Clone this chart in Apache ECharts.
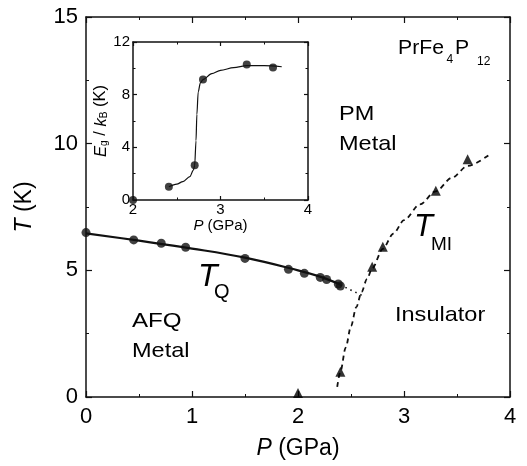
<!DOCTYPE html>
<html><head><meta charset="utf-8">
<script src="https://cdn.jsdelivr.net/npm/echarts@6/dist/echarts.min.js"></script>
<style>html,body{margin:0;padding:0;background:#fff}#c{width:527px;height:466px}</style>
</head><body><div id="c"></div>
<script>
// ---- data ----
const tqP = [0, 0.45, 0.71, 0.94, 1.5, 1.91, 2.06, 2.21, 2.27, 2.38, 2.40];
const tqT = [6.49, 6.2, 6.07, 5.91, 5.47, 5.04, 4.88, 4.72, 4.64, 4.46, 4.38];
const tqFitP = [0, 0.5, 1.0, 1.5, 2.0, 2.2, 2.4];
const tqFitT = [6.46, 6.17, 5.86, 5.5, 5.0, 4.76, 4.44];
const tqExtP = [2.4, 2.63];
const tqExtT = [4.42, 3.96];
const tmiP = [2.0, 2.40, 2.70, 2.80, 3.30, 3.60];
const tmiT = [0, 1.0, 5.14, 5.93, 8.14, 9.38];
const tmiFitP = [2.37, 2.40, 2.45, 2.5, 2.55, 2.6, 2.65, 2.7, 2.8, 2.9, 3.0, 3.15, 3.3, 3.45, 3.6, 3.8];
const tmiFitT = [0.4, 1.0, 1.95, 2.8, 3.55, 4.15, 4.65, 5.08, 5.85, 6.45, 6.98, 7.6, 8.12, 8.65, 9.12, 9.55];
const insetP = [2.0, 2.41, 2.705, 2.80, 3.30, 3.60];
const insetE = [0, 1.0, 2.63, 9.15, 10.29, 10.06];
const insetFitP = [2.41, 2.5, 2.57, 2.65, 2.69, 2.705, 2.72, 2.73, 2.745, 2.77, 2.8, 2.9, 3.0, 3.15, 3.3, 3.5, 3.7];
const insetFitE = [1.0, 1.2, 1.4, 1.77, 2.27, 2.63, 4.5, 6.5, 8.2, 8.9, 9.15, 9.6, 9.85, 10.05, 10.2, 10.2, 10.12];
const mainXRange = [0, 4, 1];
const mainYRange = [0, 15, 5];
const insetXRange = [2, 4, 1];
const insetYRange = [0, 12, 4];

const zip = (a, b) => a.map((v, i) => [v, b[i]]);
const FONT = '"Liberation Sans", Arial, Helvetica, sans-serif';
const C = '#111';

function axis(range, opts) {
  return Object.assign({
    type: 'value', min: range[0], max: range[1], interval: range[2],
    splitLine: { show: false },
    axisLine: { show: true, onZero: false, lineStyle: { color: C, width: 1.5 } },
    axisTick: { show: true, inside: true, length: opts.tick, lineStyle: { color: C, width: 1.2 } },
    minorTick: { show: true, splitNumber: 2, length: opts.minor, lineStyle: { color: C, width: 1 } },
    axisLabel: { show: opts.label !== false, color: '#000', fontFamily: FONT, fontSize: opts.fs, margin: opts.margin }
  }, opts.extra || {});
}

const chart = echarts.init(document.getElementById('c'), null, { renderer: 'canvas' });
const nameRich = (fs) => ({
  i: { fontStyle: 'italic', fontSize: fs, fontFamily: FONT, color: '#000' },
  n: { fontSize: fs, fontFamily: FONT, color: '#000' },
  s: { fontSize: Math.round(fs * 0.62), fontFamily: FONT, color: '#000', verticalAlign: 'bottom', lineHeight: fs * 0.8 }
});

chart.setOption({
  animation: false,
  backgroundColor: '#fff',
  grid: [
    { left: 86, top: 17, width: 424, height: 380, containLabel: false },
    { left: 133, top: 42, width: 175, height: 158, containLabel: false, show: true, backgroundColor: '#fff', borderWidth: 0 }
  ],
  xAxis: [
    axis(mainXRange, { tick: 6, minor: 3, fs: 22, margin: 9, extra: {
      gridIndex: 0, position: 'bottom', name: '{i|P}{n| (GPa)}', nameLocation: 'middle', nameGap: 40,
      nameTextStyle: { rich: nameRich(23) } } }),
    axis(mainXRange, { tick: 6, minor: 3, fs: 22, label: false, extra: { gridIndex: 0, position: 'top' } }),
    axis(insetXRange, { tick: 4, minor: 2.5, fs: 15, margin: 2, extra: {
      gridIndex: 1, position: 'bottom', name: '{i|P}{n| (GPa)}', nameLocation: 'middle', nameGap: 16,
      nameTextStyle: { rich: nameRich(15) } } }),
    axis(insetXRange, { tick: 4, minor: 2.5, fs: 15, label: false, extra: { gridIndex: 1, position: 'top' } })
  ],
  yAxis: [
    axis(mainYRange, { tick: 6, minor: 3, fs: 22, margin: 8, extra: {
      gridIndex: 0, position: 'left', name: '{i|T}{n| (K)}', nameLocation: 'middle', nameGap: 50,
      nameTextStyle: { rich: nameRich(23) } } }),
    axis(mainYRange, { tick: 6, minor: 3, fs: 22, label: false, extra: { gridIndex: 0, position: 'right' } }),
    axis(insetYRange, { tick: 4, minor: 2.5, fs: 15, margin: 3, extra: {
      gridIndex: 1, position: 'left', name: '{i|E}{s|g}{n| / }{i|k}{s|B}{n| (K)}', nameLocation: 'middle', nameGap: 21,
      nameTextStyle: { rich: nameRich(16.5) } } }),
    axis(insetYRange, { tick: 4, minor: 2.5, fs: 15, label: false, extra: { gridIndex: 1, position: 'right' } })
  ],
  series: [
    { type: 'line', xAxisIndex: 0, yAxisIndex: 0, data: zip(tqFitP, tqFitT), smooth: 0.4, symbol: 'none',
      lineStyle: { color: C, width: 2.2 }, z: 2 },
    { type: 'line', xAxisIndex: 0, yAxisIndex: 0, data: zip(tqExtP, tqExtT), symbol: 'none',
      lineStyle: { color: C, width: 1.6, type: [1.5, 4] }, z: 2 },
    { type: 'scatter', xAxisIndex: 0, yAxisIndex: 0, data: zip(tqP, tqT), symbol: 'circle', symbolSize: 9,
      itemStyle: { color: C }, clip: false, z: 3 },
    { type: 'line', xAxisIndex: 0, yAxisIndex: 0, data: zip(tmiFitP, tmiFitT), smooth: 0.3, smoothMonotone: 'x', symbol: 'none',
      lineStyle: { color: C, width: 1.8, type: [5, 4] }, z: 2 },
    { type: 'scatter', xAxisIndex: 0, yAxisIndex: 0, clip: false, z: 3,
      data: zip(tmiP, tmiT).map(d => d[1] === 0 ? { value: d, symbolOffset: [0, -4] } : d),
      symbol: 'triangle', symbolSize: 10, itemStyle: { color: '#000' } },
    { type: 'line', xAxisIndex: 2, yAxisIndex: 2, data: zip(insetFitP, insetFitE), smooth: 0.3, smoothMonotone: 'x',
      symbol: 'none', lineStyle: { color: C, width: 1.2 }, z: 5 },
    { type: 'scatter', xAxisIndex: 2, yAxisIndex: 2, data: zip(insetP, insetE), symbol: 'circle', symbolSize: 8,
      itemStyle: { color: C }, clip: false, z: 6 }
  ],
  graphic: [
    { type: 'text', x: 398, y: 48.8, scaleX: 1.06, style: { text: 'PrFe', font: '20px ' + FONT, fill: '#000', textAlign: 'left', textVerticalAlign: 'middle' } },
    { type: 'text', x: 446.5, y: 59.5, style: { text: '4', font: '12px ' + FONT, fill: '#000', textAlign: 'left', textVerticalAlign: 'middle' } },
    { type: 'text', x: 455, y: 48.8, scaleX: 1.06, style: { text: 'P', font: '20px ' + FONT, fill: '#000', textAlign: 'left', textVerticalAlign: 'middle' } },
    { type: 'text', x: 477, y: 62, style: { text: '12', font: '12px ' + FONT, fill: '#000', textAlign: 'left', textVerticalAlign: 'middle' } },
    { type: 'text', x: 339, y: 114.5, scaleX: 1.12, style: { text: 'PM', font: '21px ' + FONT, fill: '#000', textAlign: 'left', textVerticalAlign: 'middle' } },
    { type: 'text', x: 339, y: 144, scaleX: 1.12, style: { text: 'Metal', font: '21px ' + FONT, fill: '#000', textAlign: 'left', textVerticalAlign: 'middle' } },
    { type: 'text', x: 132, y: 321.5, scaleX: 1.15, style: { text: 'AFQ', font: '21px ' + FONT, fill: '#000', textAlign: 'left', textVerticalAlign: 'middle' } },
    { type: 'text', x: 132, y: 351.5, scaleX: 1.12, style: { text: 'Metal', font: '21px ' + FONT, fill: '#000', textAlign: 'left', textVerticalAlign: 'middle' } },
    { type: 'text', x: 395, y: 314.8, scaleX: 1.12, style: { text: 'Insulator', font: '21px ' + FONT, fill: '#000', textAlign: 'left', textVerticalAlign: 'middle' } },
    { type: 'text', x: 198, y: 277, style: { text: 'T', font: 'italic 32px ' + FONT, fill: '#000', textAlign: 'left', textVerticalAlign: 'middle' } },
    { type: 'text', x: 214, y: 292, style: { text: 'Q', font: '20px ' + FONT, fill: '#000', textAlign: 'left', textVerticalAlign: 'middle' } },
    { type: 'text', x: 414, y: 227.5, style: { text: 'T', font: 'italic 31px ' + FONT, fill: '#000', textAlign: 'left', textVerticalAlign: 'middle' } },
    { type: 'text', x: 431, y: 245, style: { text: 'MI', font: '19px ' + FONT, fill: '#000', textAlign: 'left', textVerticalAlign: 'middle' } }
  ]
});
</script>
</body></html>
